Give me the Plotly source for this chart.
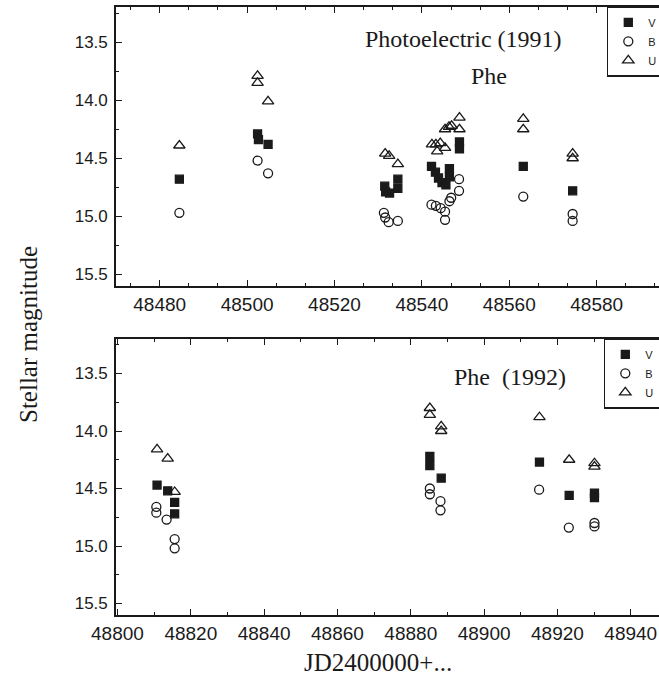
import plotly.graph_objects as go

# ---- 1991 photoelectric data (top panel) ----
jd91_V = [48484.5, 48502.4, 48502.6, 48504.8, 48531.5, 48531.7, 48532.6, 48534.5, 48534.5,
          48542.2, 48543.1, 48543.8, 48544.6, 48545.5, 48546.3, 48546.3, 48548.6, 48548.6,
          48563.2, 48574.5]
mag91_V = [14.68, 14.29, 14.34, 14.38, 14.74, 14.79, 14.80, 14.68, 14.76,
           14.57, 14.62, 14.67, 14.71, 14.73, 14.59, 14.66, 14.36, 14.42,
           14.57, 14.78]
jd91_B = [48484.5, 48502.4, 48504.8, 48531.3, 48531.6, 48532.4, 48534.5,
          48542.2, 48543.2, 48544.3, 48545.3, 48545.3, 48546.3, 48546.7, 48548.5, 48548.5,
          48563.2, 48574.5, 48574.5]
mag91_B = [14.97, 14.52, 14.63, 14.97, 15.01, 15.05, 15.04,
           14.90, 14.91, 14.93, 14.96, 15.03, 14.87, 14.84, 14.68, 14.78,
           14.83, 14.98, 15.04]
jd91_U = [48484.5, 48502.4, 48502.4, 48504.8, 48531.6, 48532.5, 48534.5,
          48542.3, 48543.2, 48543.5, 48544.2, 48545.3, 48545.3, 48546.2, 48546.8, 48548.6, 48548.6,
          48563.2, 48563.2, 48574.5, 48574.5]
mag91_U = [14.39, 13.79, 13.85, 14.01, 14.46, 14.48, 14.55,
           14.38, 14.38, 14.44, 14.37, 14.41, 14.25, 14.23, 14.22, 14.15, 14.25,
           14.16, 14.25, 14.46, 14.50]

# ---- 1992 data (bottom panel) ----
jd92_V = [48810.8, 48813.7, 48815.6, 48815.6, 48885.2, 48885.2, 48888.3, 48915.1, 48923.2, 48930.1, 48930.1]
mag92_V = [14.47, 14.52, 14.62, 14.72, 14.22, 14.30, 14.41, 14.27, 14.56, 14.54, 14.58]
jd92_B = [48810.6, 48810.6, 48813.4, 48815.6, 48815.6, 48885.2, 48885.2, 48888.1, 48888.1,
          48915.0, 48923.1, 48930.1, 48930.1]
mag92_B = [14.66, 14.71, 14.77, 14.94, 15.02, 14.50, 14.55, 14.61, 14.69,
           14.51, 14.84, 14.80, 14.83]
jd92_U = [48810.8, 48813.7, 48815.6, 48885.2, 48885.2, 48888.3, 48888.3, 48915.1, 48923.2, 48930.1, 48930.1]
mag92_U = [14.16, 14.24, 14.53, 13.80, 13.86, 13.96, 14.00, 13.88, 14.25, 14.28, 14.31]

y_ticks = [13.5, 14.0, 14.5, 15.0, 15.5]
y_ticklabels = ["13.5", "14.0", "14.5", "15.0", "15.5"]

INK = "#1a1a1a"
SANS = "Arial, Liberation Sans, sans-serif"
SERIF = "Times New Roman, Liberation Serif, serif"

W, H = 659, 681
ML = 116

def py(px):  # pixel row -> paper y
    return 1 - px / H

def pxx(px):  # pixel column -> paper x
    return (px - ML) / (W - ML)

fig = go.Figure()

def add_set(x, y, name, sym, xa, ya, leg):
    filled = sym == "square"
    fig.add_trace(go.Scatter(
        x=x, y=y, mode="markers", name=name, xaxis=xa, yaxis=ya, legend=leg,
        marker=dict(symbol=sym, size=8 if filled else (9 if sym == "circle-open" else 10),
                    color=INK, line=dict(color=INK, width=1.3)),
        showlegend=True,
    ))

add_set(jd91_V, mag91_V, "V", "square", "x", "y", "legend")
add_set(jd91_B, mag91_B, "B", "circle-open", "x", "y", "legend")
add_set(jd91_U, mag91_U, "U", "triangle-up-open", "x", "y", "legend")
add_set(jd92_V, mag92_V, "V", "square", "x2", "y2", "legend2")
add_set(jd92_B, mag92_B, "B", "circle-open", "x2", "y2", "legend2")
add_set(jd92_U, mag92_U, "U", "triangle-up-open", "x2", "y2", "legend2")

xcommon = dict(showline=True, linecolor=INK, linewidth=1.6, mirror="ticks",
               ticks="inside", ticklen=6, tickwidth=1.2, tickcolor=INK,
               showgrid=False, zeroline=False, tickformat="d",
               tickfont=dict(family=SANS, size=19, color=INK), domain=[0, 1])
ycommon = dict(showline=True, linecolor=INK, linewidth=1.6,
               ticks="inside", ticklen=6, tickwidth=1.2, tickcolor=INK,
               showgrid=False, zeroline=False, range=[15.6, 13.2],
               tickvals=y_ticks, ticktext=y_ticklabels, ticklabelstandoff=3,
               minor=dict(dtick=0.25, tick0=13.5, ticks="inside", ticklen=3, tickcolor=INK),
               tickfont=dict(family=SANS, size=17, color=INK))
yright = dict(side="right", showline=False, ticks="inside", ticklen=5,
              tickwidth=1.2, tickcolor=INK, showticklabels=False, showgrid=False,
              zeroline=False, range=[15.6, 13.2], tickvals=y_ticks)

legend_style = dict(xanchor="left", yanchor="top", bordercolor=INK, borderwidth=1.3,
                    bgcolor="white", font=dict(family=SANS, size=11, color=INK),
                    tracegroupgap=0)

ann_style = dict(xref="paper", yref="paper", showarrow=False, xanchor="center", yanchor="middle")

fig.update_layout(
    width=W, height=H,
    margin=dict(l=ML, r=0, t=0, b=0, autoexpand=False),
    paper_bgcolor="white", plot_bgcolor="white",
    xaxis=dict(xcommon, anchor="y", range=[48470, 48594.26], dtick=20, tick0=48480,
               minor=dict(dtick=20 / 3, tick0=48480, ticks="inside", ticklen=3, tickcolor=INK)),
    yaxis=dict(ycommon, anchor="x", domain=[py(286), py(7.3)]),
    xaxis2=dict(xcommon, anchor="y2", range=[48799.6, 48947.7], dtick=20, tick0=48800,
                minor=dict(dtick=10, tick0=48800, ticks="inside", ticklen=3, tickcolor=INK)),
    yaxis2=dict(ycommon, anchor="x2", domain=[py(615), py(339)]),
    yaxis3=dict(yright, overlaying="y", anchor="x"),
    yaxis4=dict(yright, overlaying="y2", anchor="x2"),
    legend=dict(legend_style, x=pxx(607), y=py(6.5)),
    legend2=dict(legend_style, x=pxx(604), y=py(338.5)),
    annotations=[
        dict(ann_style, text="Photoelectric (1991)", x=pxx(463), y=py(39),
             font=dict(family=SERIF, size=24, color=INK)),
        dict(ann_style, text="Phe", x=pxx(489), y=py(76),
             font=dict(family=SERIF, size=24, color=INK)),
        dict(ann_style, text="Phe  (1992)", x=pxx(510), y=py(377),
             font=dict(family=SERIF, size=24, color=INK)),
        dict(ann_style, text="JD2400000+...", x=pxx(378), y=py(662),
             font=dict(family=SERIF, size=25, color=INK)),
        dict(ann_style, text="Stellar magnitude", x=pxx(28), y=py(335), textangle=-90,
             font=dict(family=SERIF, size=25, color=INK)),
    ],
)

fig.write_html("out.html",
               config={"displayModeBar": False},
               post_script="document.body.style.margin='0';document.body.style.padding='0';")
